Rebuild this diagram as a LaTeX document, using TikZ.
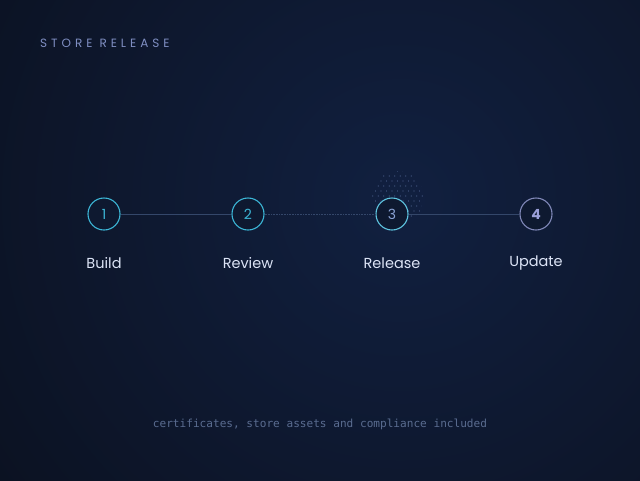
\documentclass[tikz,border=0pt]{standalone}
\usepackage{fontspec}
\setmainfont{Poppins}
\newfontfamily\monofont{DejaVu Sans Mono}
\newfontfamily\titlefont[LetterSpace=33]{Poppins}
\usetikzlibrary{calc}
\definecolor{bgouter}{HTML}{0B1120}
\definecolor{bginner}{HTML}{112040}
\definecolor{cyanring}{HTML}{3CB6D6}
\definecolor{ring3}{HTML}{5EC4E0}
\definecolor{ring4}{HTML}{8088B8}
\definecolor{nodefill}{HTML}{0E1930}
\definecolor{linkline}{HTML}{34476A}
\definecolor{labeltext}{HTML}{DCE4F6}
\definecolor{titletext}{HTML}{7F8EC2}
\definecolor{foottext}{HTML}{5A6C90}
\definecolor{num3}{HTML}{8AA2D4}
\definecolor{num4}{HTML}{9A9FD8}
\definecolor{halodot}{HTML}{4A5E8A}
\begin{document}
\begin{tikzpicture}[x=1pt,y=-1pt,
  stepnode/.style={circle,minimum size=32pt,inner sep=0pt,fill=nodefill,line width=1.1pt,font=\fontsize{14}{14}\selectfont},
  steplabel/.style={font=\fontsize{14.5}{15}\selectfont,text=labeltext,anchor=center},
  link/.style={draw=linkline,line width=0.8pt}]
\useasboundingbox (0,0) rectangle (640,480);
\begin{scope}
\clip (0,0) rectangle (640,480);
\fill[bgouter] (0,0) rectangle (640,480);
\shade[inner color=bginner,outer color=bgouter] (400,200) circle (520);
\end{scope}
% halo dots
\begin{scope}
\clip (398,197) circle (26);
\foreach \i in {0,...,10}{
  \foreach \j in {0,...,9}{
    \fill[halodot] ({370+\i*5.5+mod(\j,2)*2.75},{171+\j*5}) circle (0.55);
  }
}
\end{scope}
\node[stepnode,draw=cyanring,text=cyanring] (s1) at (104,214) {1};
\node[stepnode,draw=cyanring,text=cyanring] (s2) at (248,214) {2};
\node[stepnode,draw=ring3,text=num3] (s3) at (392,214) {3};
\node[stepnode,draw=ring4,text=num4,font=\fontsize{14}{14}\selectfont\bfseries] (s4) at (536,214) {4};
\draw[link] (s1) -- (s2);
\draw[link,dash pattern=on 1pt off 0.6pt] (s2) -- (s3);
\draw[link] (s3) -- (s4);
\node[steplabel] (l1) at (104,263) {Build};
\node[steplabel] (l2) at (248,263) {Review};
\node[steplabel] (l3) at (392,263) {Release};
\node[steplabel] (l4) at (536,263.5) {Update};
\node[anchor=west,inner sep=0pt,text=titletext,font=\titlefont\fontsize{12}{12}\selectfont] (title) at (40,43) {STORE RELEASE};
\node[inner sep=0pt,text=foottext,font=\monofont\fontsize{11.1}{12}\selectfont] (foot) at (320,424) {certificates, store assets and compliance included};
\end{tikzpicture}
\end{document}
